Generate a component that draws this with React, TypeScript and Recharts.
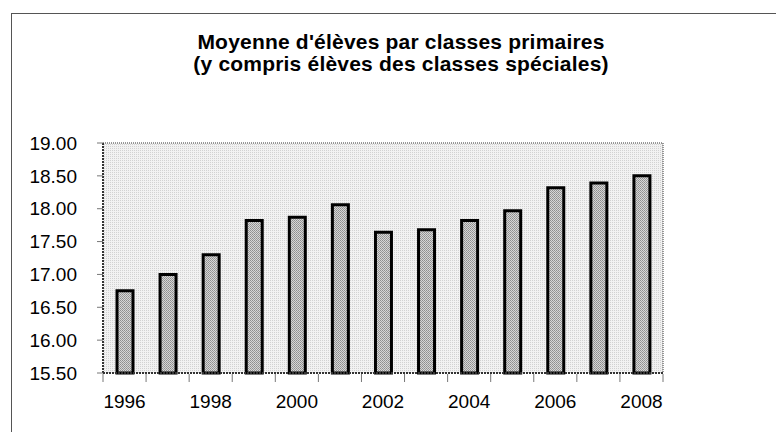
import React from "react";
import { BarChart, Bar, XAxis, YAxis, CartesianGrid } from "recharts";

const years = ["1996", "1997", "1998", "1999", "2000", "2001", "2002", "2003", "2004", "2005", "2006", "2007", "2008"];
const averages = [16.75, 17.0, 17.3, 17.82, 17.87, 18.06, 17.64, 17.68, 17.82, 17.97, 18.32, 18.39, 18.5];
const yTicks = [15.5, 16, 16.5, 17, 17.5, 18, 18.5, 19];
const titleLines = ["Moyenne d'élèves par classes primaires", "(y compris élèves des classes spéciales)"];

const data = years.map((year, i) => ({ year, value: averages[i] }));

const font = "'Liberation Sans', Arial, Helvetica, sans-serif";
const tickText = { fontSize: 19, fill: "#000", fontFamily: font };
const borderLine = { stroke: "#333", strokeWidth: 2, strokeDasharray: "2 1" };
const lightBorder = { stroke: "#777", strokeWidth: 1.5, strokeDasharray: "1 1" };

// category axis tick: tick marks sit between the bars, labels every second year
function YearTick(props: any) {
  const { x, y, payload, index, visibleTicksCount } = props;
  const half = payload.offset ?? 0;
  const marks = [x - half];
  if (index === visibleTicksCount - 1) marks.push(x + half);
  return (
    <g>
      {marks.map((mx) => (
        <line key={mx} x1={mx} x2={mx} y1={y - 1} y2={y + 7} stroke="#777" />
      ))}
      {index % 2 === 0 && (
        <text x={x} y={y + 33} textAnchor="middle" style={tickText}>
          {payload.value}
        </text>
      )}
    </g>
  );
}

export default function App() {
  return (
    <div style={{ position: "absolute", left: 0, top: 0, width: 776, height: 432, overflow: "hidden", background: "#fff" }}>
      <div
        style={{
          position: "absolute",
          left: 11,
          top: 13,
          width: 800,
          height: 500,
          borderTop: "1.5px solid #555",
          borderLeft: "1.5px solid #555",
        }}
      />
      <div
        style={{
          position: "absolute",
          left: 101,
          top: 31,
          width: 600,
          textAlign: "center",
          fontFamily: font,
          fontWeight: 700,
          fontSize: 21,
          lineHeight: "22px",
          letterSpacing: 0.2,
          color: "#000",
        }}
      >
        {titleLines.map((t) => (
          <div key={t}>{t}</div>
        ))}
      </div>
      <div style={{ position: "absolute", left: 0, top: 0 }}>
        <BarChart width={776} height={432} data={data} margin={{ top: 142, right: 112, left: 13, bottom: 19 }} barSize={16}>
          <defs>
            <pattern id="plotDots" width="2" height="2" patternUnits="userSpaceOnUse">
              <rect width="2" height="2" fill="#f2f2f2" />
              <rect width="1" height="1" fill="#d2d2d2" />
            </pattern>
            <pattern id="barDots" width="2" height="2" patternUnits="userSpaceOnUse">
              <rect width="2" height="2" fill="#d6d6d6" />
              <rect width="1" height="1" fill="#8e8e8e" />
              <rect x="1" y="1" width="1" height="1" fill="#9c9c9c" />
            </pattern>
          </defs>
          <CartesianGrid horizontal={false} vertical={false} fill="url(#plotDots)" />
          <XAxis
            dataKey="year"
            interval={0}
            height={40}
            axisLine={borderLine}
            tickLine={false}
            tickSize={0}
            tick={<YearTick />}
          />
          <XAxis
            xAxisId="top"
            orientation="top"
            dataKey="year"
            height={1}
            tick={false}
            tickLine={false}
            axisLine={lightBorder}
          />
          <YAxis
            domain={[15.5, 19]}
            ticks={yTicks}
            tickFormatter={(v: number) => v.toFixed(2)}
            width={90}
            tickSize={6}
            tickMargin={20}
            axisLine={borderLine}
            tickLine={{ stroke: "#777" }}
            tick={tickText}
          />
          <YAxis
            yAxisId="r"
            orientation="right"
            type="number"
            domain={[15.5, 19]}
            width={1}
            tick={false}
            tickLine={false}
            axisLine={lightBorder}
          />
          <Bar dataKey="value" fill="url(#barDots)" stroke="#000" strokeWidth={3} isAnimationActive={false} />
        </BarChart>
      </div>
    </div>
  );
}
